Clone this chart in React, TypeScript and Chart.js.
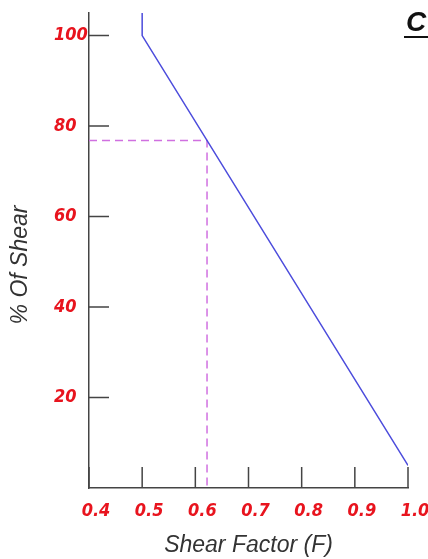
import React, { useEffect, useRef } from "react";
import { Chart, registerables } from "chart.js";

Chart.register(...registerables);

// Data
const curveX = [0.5, 0.5, 1.0];
const curveY = [105, 100, 5];
const guideX = [0.4, 0.622, 0.622];
const guideY = [76.8, 76.8, 0];
const xTicks = [0.4, 0.5, 0.6, 0.7, 0.8, 0.9, 1.0];
const yTicks = [20, 40, 60, 80, 100];
const xTitle = "Shear Factor (F)";
const yTitle = "% Of Shear";
const cornerTitle = "C";

const RED = "#e8141e";
const AXIS = "#444444";
const LABEL_FONT = "'DejaVu Sans Condensed', 'Liberation Sans', sans-serif";

const innerTicks = {
  id: "innerTicks",
  afterDatasetsDraw(chart: any) {
    const ctx = chart.ctx;
    const { left, bottom } = chart.chartArea;
    const xs = chart.scales.x;
    const ys = chart.scales.y;
    ctx.save();
    ctx.strokeStyle = AXIS;
    ctx.lineWidth = 1.5;
    ctx.beginPath();
    yTicks.forEach((v) => {
      const py = ys.getPixelForValue(v);
      ctx.moveTo(left, py);
      ctx.lineTo(left + 20, py);
    });
    xTicks.forEach((v) => {
      const px = xs.getPixelForValue(v);
      ctx.moveTo(px, bottom);
      ctx.lineTo(px, bottom - 21);
    });
    ctx.stroke();

    // y axis title
    ctx.fillStyle = "#333333";
    ctx.font = "italic 23px 'Liberation Sans', Arial, sans-serif";
    ctx.textAlign = "center";
    ctx.textBaseline = "middle";
    ctx.translate(21, 265);
    ctx.rotate(-Math.PI / 2);
    ctx.fillText(yTitle, 0, 0);
    ctx.restore();

    // corner title
    ctx.save();
    ctx.fillStyle = "#111111";
    ctx.font = "bold italic 28px 'Liberation Sans', Arial, sans-serif";
    ctx.textAlign = "left";
    ctx.textBaseline = "alphabetic";
    ctx.fillText(cornerTitle, 406, 31);
    ctx.strokeStyle = "#111111";
    ctx.lineWidth = 2;
    ctx.beginPath();
    ctx.moveTo(404, 37);
    ctx.lineTo(428, 37);
    ctx.stroke();
    ctx.restore();
  },
};

export default function App() {
  const ref = useRef<HTMLCanvasElement | null>(null);

  useEffect(() => {
    document.body.style.margin = "0";
    const canvas = ref.current;
    if (!canvas) return;
    const chart = new Chart(canvas, {
      type: "scatter",
      data: {
        datasets: [
          {
            label: "curve",
            data: curveX.map((x, i) => ({ x, y: curveY[i] })),
            showLine: true,
            borderColor: "#4c4cdc",
            borderWidth: 1.5,
            pointRadius: 0,
            fill: false,
          },
          {
            label: "guide",
            data: guideX.map((x, i) => ({ x, y: guideY[i] })),
            showLine: true,
            borderColor: "#d070e0",
            borderWidth: 1.5,
            borderDash: [8, 5],
            pointRadius: 0,
            fill: false,
          },
        ],
      },
      options: {
        animation: false,
        responsive: false,
        maintainAspectRatio: false,
        layout: { padding: { left: 54, top: 13, right: 20, bottom: 0 } },
        plugins: {
          legend: { display: false },
          tooltip: { enabled: false },
        },
        scales: {
          x: {
            type: "linear",
            min: 0.4,
            max: 1.0,
            afterBuildTicks: (s: any) => {
              s.ticks = xTicks.map((v) => ({ value: v }));
            },
            afterFit: (s: any) => {
              s.height = 71;
              s.paddingLeft = 0;
              s.paddingRight = 0;
            },
            grid: { display: false, drawTicks: false },
            border: { display: true, color: AXIS, width: 1.5 },
            ticks: {
              color: RED,
              padding: 13,
              labelOffset: 7,
              maxRotation: 0,
              autoSkip: false,
              font: { family: LABEL_FONT, size: 18, style: "italic", weight: "bold" },
              callback: (v: any) => Number(v).toFixed(1),
            },
            title: {
              display: true,
              text: xTitle,
              color: "#333333",
              padding: { top: 0, bottom: 0 },
              font: { family: "'Liberation Sans', Arial, sans-serif", size: 23, style: "italic", weight: "normal" },
            },
          },
          y: {
            type: "linear",
            min: 0,
            max: 105,
            afterBuildTicks: (s: any) => {
              s.ticks = yTicks.map((v) => ({ value: v }));
            },
            afterFit: (s: any) => {
              s.width = 35;
              s.paddingTop = 0;
              s.paddingBottom = 0;
            },
            grid: { display: false, drawTicks: false },
            border: { display: true, color: AXIS, width: 1.5 },
            ticks: {
              color: RED,
              crossAlign: "far",
              autoSkip: false,
              font: { family: LABEL_FONT, size: 18, style: "italic", weight: "bold" },
            },
          },
        },
      },
      plugins: [innerTicks],
    } as any);
    return () => chart.destroy();
  }, []);

  return (
    <div style={{ width: 428, height: 559, background: "#ffffff" }}>
      <canvas ref={ref} width={428} height={559} style={{ display: "block" }} />
    </div>
  );
}
